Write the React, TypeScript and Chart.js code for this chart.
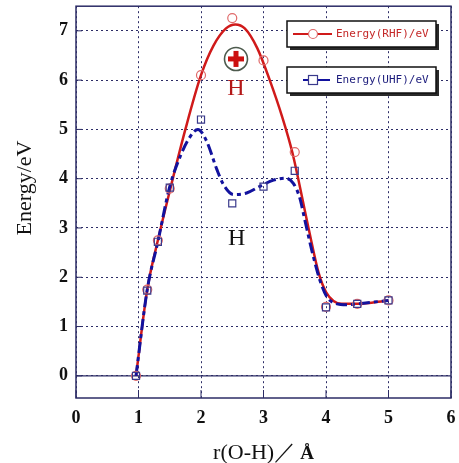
import React, { useEffect, useRef } from "react";
import { Chart, registerables } from "chart.js";

Chart.register(...registerables);

// measured data points (r in Å, energy in eV)
const rPoints = [0.96, 1.14, 1.31, 1.5, 2.0, 2.5, 3.0, 3.5, 4.0, 4.5, 5.0];
const rhfEnergy = [0, 1.75, 2.75, 3.8, 6.1, 7.26, 6.4, 4.54, 1.4, 1.46, 1.53];
const uhfEnergy = [0, 1.73, 2.72, 3.82, 5.2, 3.5, 3.84, 4.16, 1.39, 1.46, 1.53];

// fitted curves
const rhfCurveR = [0.96, 1.14, 1.31, 1.5, 1.75, 2.0, 2.2, 2.4, 2.55, 2.7, 2.9, 3.1, 3.3, 3.46, 3.72, 3.88, 4.0, 4.12, 4.25, 4.5, 5.0];
const rhfCurveE = [0, 1.75, 2.75, 3.75, 5.0, 6.1, 6.7, 7.05, 7.13, 7.05, 6.65, 6.0, 5.25, 4.54, 3.0, 2.1, 1.7, 1.52, 1.46, 1.46, 1.53];
const uhfCurveR = [0.96, 1.14, 1.31, 1.5, 1.67, 1.8, 1.95, 2.09, 2.25, 2.36, 2.52, 2.73, 2.95, 3.16, 3.35, 3.48, 3.58, 3.66, 3.77, 3.9, 4.01, 4.15, 4.33, 4.5, 5.0];
const uhfCurveE = [0, 1.75, 2.72, 3.84, 4.46, 4.8, 5.0, 4.76, 4.2, 3.88, 3.68, 3.71, 3.85, 3.97, 4.01, 3.9, 3.61, 3.17, 2.56, 1.95, 1.61, 1.47, 1.44, 1.46, 1.53];

const xTicks = [0, 1, 2, 3, 4, 5, 6];
const yTicks = [0, 1, 2, 3, 4, 5, 6, 7];

const legendLabels = ["Energy(RHF)/eV", "Energy(UHF)/eV"];
const yTitle = "Energy/eV";
const xTitleMain = "r(O-H)／";
const xTitleUnit = "Å";

const RED = "#d01a1a";
const BLUE = "#12129e";
const NAVY = "#2c2c66";

const toXY = (xs: number[], ys: number[]) => xs.map((x, i) => ({ x, y: ys[i] }));

const decorPlugin = {
  id: "decor",
  beforeDatasetsDraw(chart: any) {
    const { ctx, chartArea: a, scales } = chart;
    const y0 = scales.y.getPixelForValue(0);
    ctx.save();
    ctx.strokeStyle = NAVY;
    ctx.lineWidth = 1.3;
    ctx.beginPath();
    ctx.moveTo(a.left, y0);
    ctx.lineTo(a.right, y0);
    ctx.stroke();
    // inner ticks
    ctx.lineWidth = 1;
    xTicks.forEach((v) => {
      const px = scales.x.getPixelForValue(v);
      ctx.beginPath();
      ctx.moveTo(px, a.bottom);
      ctx.lineTo(px, a.bottom - 8);
      ctx.stroke();
    });
    yTicks.forEach((v) => {
      const py = scales.y.getPixelForValue(v);
      ctx.beginPath();
      ctx.moveTo(a.left, py);
      ctx.lineTo(a.left + 6, py);
      ctx.stroke();
    });
    ctx.lineWidth = 1.5;
    ctx.strokeRect(a.left, a.top, a.right - a.left, a.bottom - a.top);
    ctx.restore();
  },
  afterDraw(chart: any) {
    const { ctx, chartArea: a, scales } = chart;
    ctx.save();
    // axis titles
    ctx.fillStyle = "#111";
    ctx.translate(25, 188);
    ctx.rotate(-Math.PI / 2);
    ctx.font = '22px "Liberation Serif"';
    ctx.textAlign = "center";
    ctx.textBaseline = "middle";
    ctx.fillText(yTitle, 0, 0);
    ctx.restore();

    ctx.save();
    ctx.fillStyle = "#111";
    ctx.textBaseline = "alphabetic";
    ctx.textAlign = "left";
    ctx.font = '22px "Liberation Serif"';
    const w1 = ctx.measureText(xTitleMain).width;
    ctx.font = 'bold 19px "Liberation Serif"';
    const w2 = ctx.measureText(xTitleUnit).width;
    const cx = (a.left + a.right) / 2;
    const sx = cx - (w1 + w2 + 4) / 2;
    ctx.font = '22px "Liberation Serif"';
    ctx.fillText(xTitleMain, sx, 459);
    ctx.font = 'bold 19px "Liberation Serif"';
    ctx.fillText(xTitleUnit, sx + w1 + 4, 459);
    ctx.restore();

    // legend boxes
    const boxes = [
      { y: 21, color: RED, text: legendLabels[0], l0: 293, l1: 332, marker: "circle" },
      { y: 67, color: BLUE, text: legendLabels[1], l0: 303, l1: 330, marker: "rect" },
    ];
    boxes.forEach((b) => {
      const bx = 287, bw = 149, bh = 26;
      ctx.save();
      ctx.fillStyle = "#2a2a2a";
      ctx.fillRect(bx + 3, b.y + 3, bw, bh);
      ctx.fillStyle = "#fff";
      ctx.fillRect(bx, b.y, bw, bh);
      ctx.strokeStyle = "#111";
      ctx.lineWidth = 1.5;
      ctx.strokeRect(bx, b.y, bw, bh);
      const cy = b.y + bh / 2;
      ctx.strokeStyle = b.color;
      ctx.lineWidth = 2;
      ctx.beginPath();
      ctx.moveTo(b.l0, cy);
      ctx.lineTo(b.l1, cy);
      ctx.stroke();
      ctx.lineWidth = 1.2;
      if (b.marker === "circle") {
        ctx.strokeStyle = "#e06a6a";
        ctx.fillStyle = "#fff";
        ctx.beginPath();
        ctx.arc(313, cy, 4.5, 0, Math.PI * 2);
        ctx.fill();
        ctx.stroke();
      } else {
        ctx.strokeStyle = "#3a3a8c";
        ctx.fillStyle = "#fff";
        ctx.fillRect(308.5, cy - 4.5, 9, 9);
        ctx.strokeRect(308.5, cy - 4.5, 9, 9);
      }
      ctx.fillStyle = b.color === RED ? "#c42828" : "#1c1c7c";
      ctx.font = '11px "DejaVu Sans Mono"';
      ctx.textAlign = "left";
      ctx.textBaseline = "middle";
      ctx.fillText(b.text, 336, cy + 0.5);
      ctx.restore();
    });

    // H annotations
    const px = (v: number) => scales.x.getPixelForValue(v);
    const py = (v: number) => scales.y.getPixelForValue(v);
    ctx.save();
    const ccx = px(2.56), ccy = py(6.43);
    ctx.fillStyle = "#fff";
    ctx.strokeStyle = "#4d5a4d";
    ctx.lineWidth = 1.6;
    ctx.beginPath();
    ctx.arc(ccx, ccy, 11.5, 0, Math.PI * 2);
    ctx.fill();
    ctx.stroke();
    ctx.fillStyle = "#cc1010";
    ctx.fillRect(ccx - 8, ccy - 2.5, 16, 5);
    ctx.fillRect(ccx - 2.5, ccy - 8, 5, 16);
    ctx.font = '24px "Liberation Serif"';
    ctx.textAlign = "center";
    ctx.textBaseline = "middle";
    ctx.fillStyle = "#b41818";
    ctx.fillText("H", px(2.56), py(5.83));
    ctx.fillStyle = "#111";
    ctx.fillText("H", px(2.57), py(2.78));
    ctx.restore();
  },
};

export default function App() {
  const ref = useRef<HTMLCanvasElement | null>(null);
  useEffect(() => {
    if (!ref.current) return;
    const chart = new Chart(ref.current, {
      type: "scatter",
      data: {
        datasets: [
          {
            label: "UHF points",
            data: toXY(rPoints, uhfEnergy),
            showLine: false,
            pointStyle: "rect",
            pointRadius: 5,
            pointBorderColor: "#3a3a8c",
            pointBackgroundColor: "rgba(0,0,0,0)",
            pointBorderWidth: 1.2,
          },
          {
            label: "RHF points",
            data: toXY(rPoints, rhfEnergy),
            showLine: false,
            pointStyle: "circle",
            pointRadius: 4.5,
            pointBorderColor: "#e06a6a",
            pointBackgroundColor: "rgba(0,0,0,0)",
            pointBorderWidth: 1.2,
          },
          {
            label: legendLabels[1],
            data: toXY(uhfCurveR, uhfCurveE),
            showLine: true,
            borderColor: BLUE,
            borderWidth: 3,
            borderDash: [11, 4, 4, 4],
            pointRadius: 0,
            cubicInterpolationMode: "monotone",
          },
          {
            label: legendLabels[0],
            data: toXY(rhfCurveR, rhfCurveE),
            showLine: true,
            borderColor: RED,
            borderWidth: 2.5,
            pointRadius: 0,
            cubicInterpolationMode: "monotone",
          },
        ],
      },
      options: {
        animation: false,
        responsive: false,
        events: [],
        layout: { padding: { top: 6, right: 8, left: 0, bottom: 0 } },
        plugins: { legend: { display: false }, tooltip: { enabled: false } },
        scales: {
          x: {
            type: "linear",
            min: 0,
            max: 6,
            afterFit: (s: any) => {
              s.height = 65;
              s.paddingLeft = 0;
              s.paddingRight = 0;
            },
            afterBuildTicks: (s: any) => {
              s.ticks = xTicks.map((v) => ({ value: v }));
            },
            ticks: {
              color: "#111",
              padding: 10,
              maxRotation: 0,
              font: { family: "Liberation Serif", size: 18, weight: "bold" },
            },
            grid: { color: NAVY, lineWidth: 1, drawTicks: false },
            border: { display: false, dash: [2, 3] },
          },
          y: {
            type: "linear",
            min: -0.45,
            max: 7.5,
            afterFit: (s: any) => {
              s.width = 76;
              s.paddingTop = 0;
              s.paddingBottom = 0;
            },
            afterBuildTicks: (s: any) => {
              s.ticks = yTicks.map((v) => ({ value: v }));
            },
            ticks: {
              color: "#111",
              padding: 8,
              font: { family: "Liberation Serif", size: 18, weight: "bold" },
            },
            grid: { color: NAVY, lineWidth: 1, drawTicks: false },
            border: { display: false, dash: [2, 3] },
          },
        },
      },
      plugins: [decorPlugin],
    } as any);
    return () => chart.destroy();
  }, []);
  return (
    <div style={{ position: "fixed", left: 0, top: 0, width: 459, height: 463, background: "#fff" }}>
      <canvas ref={ref} width={459} height={463} style={{ width: 459, height: 463, display: "block" }} />
    </div>
  );
}
